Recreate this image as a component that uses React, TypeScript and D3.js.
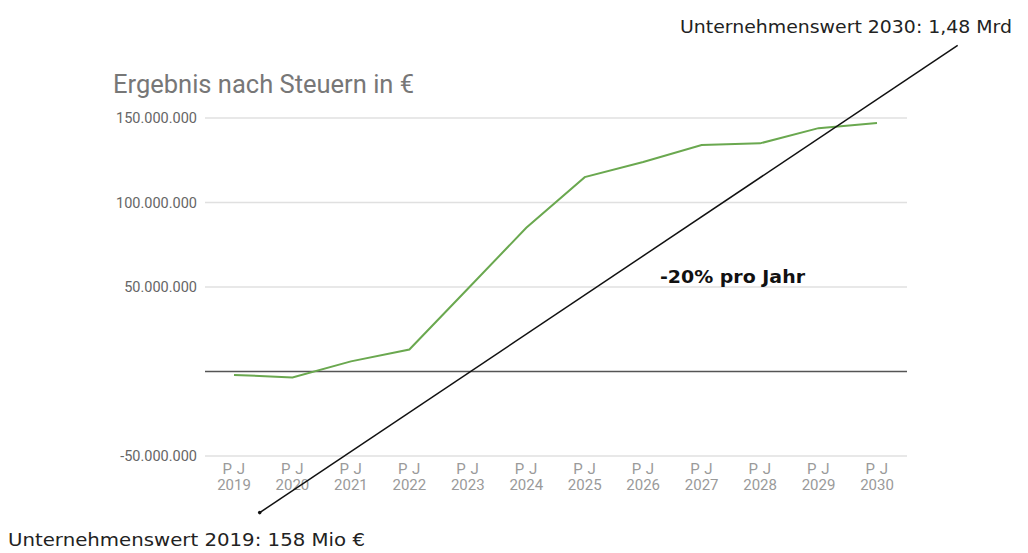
import React from "react";
import * as d3 from "d3";

const years = ["2019","2020","2021","2022","2023","2024","2025","2026","2027","2028","2029","2030"];
const values = [-2000000, -3500000, 6000000, 13000000, 49000000, 85000000, 115000000, 124000000, 134000000, 135000000, 144000000, 147000000];
const yTicks = [-50000000, 50000000, 100000000, 150000000];
// valuation trend annotation line (index, value)
const trendStart = [0.44, -83500000];
const trendEnd = [12.38, 193000000];

const W = 1028, H = 553;

export default function App() {
  const x = d3.scaleLinear().domain([0, 11]).range([234, 877]);
  const y = d3.scaleLinear().domain([-50000000, 150000000]).range([456, 118]);
  const fmt = (v: number) => d3.format(",")(v).replace(/,/g, ".").replace("\u2212", "-");
  const line = d3.line<number>().x((_, i) => x(i)).y(d => y(d));
  return (
    <svg width={W} height={H} style={{ position: "absolute", left: 0, top: 0, background: "#fff" }}>
      <text x={113} y={93} fontFamily="Roboto" fontSize={25.5} fill="#777">Ergebnis nach Steuern in €</text>
      {yTicks.map(t => (
        <g key={t}>
          <line x1={205} x2={907} y1={y(t)} y2={y(t)} stroke="#e0e0e0" strokeWidth={1.3} />
          <text x={197} y={y(t) + 5} textAnchor="end" fontFamily="Roboto" fontSize={14.5} fill="#666">{fmt(t)}</text>
        </g>
      ))}
      <line x1={205} x2={907} y1={y(0)} y2={y(0)} stroke="#555" strokeWidth={1.4} />
      {years.map((yr, i) => (
        <g key={yr} fontFamily="Roboto" fontSize={15} fill="#9a9a9a" textAnchor="middle">
          <text x={x(i)} y={474} letterSpacing={0.5}>P J</text>
          <text x={x(i)} y={490}>{yr}</text>
        </g>
      ))}
      <path d={line(values) || ""} fill="none" stroke="#6aa84f" strokeWidth={2} />
      <line x1={x(trendStart[0])} y1={y(trendStart[1])} x2={x(trendEnd[0])} y2={y(trendEnd[1])} stroke="#111" strokeWidth={1.5} />
      <circle cx={x(trendStart[0])} cy={y(trendStart[1])} r={1.8} fill="#111" />
      <text x={660} y={283} fontFamily="DejaVu Sans" fontWeight="bold" fontSize={18} fill="#111" textLength={145} lengthAdjust="spacingAndGlyphs">-20% pro Jahr</text>
      <text x={8} y={546} fontFamily="DejaVu Sans" fontSize={18} fill="#222" textLength={357} lengthAdjust="spacingAndGlyphs">Unternehmenswert 2019:  158 Mio €</text>
      <text x={680} y={33} fontFamily="DejaVu Sans" fontSize={18} fill="#222" textLength={332} lengthAdjust="spacingAndGlyphs">Unternehmenswert 2030: 1,48 Mrd</text>
    </svg>
  );
}
